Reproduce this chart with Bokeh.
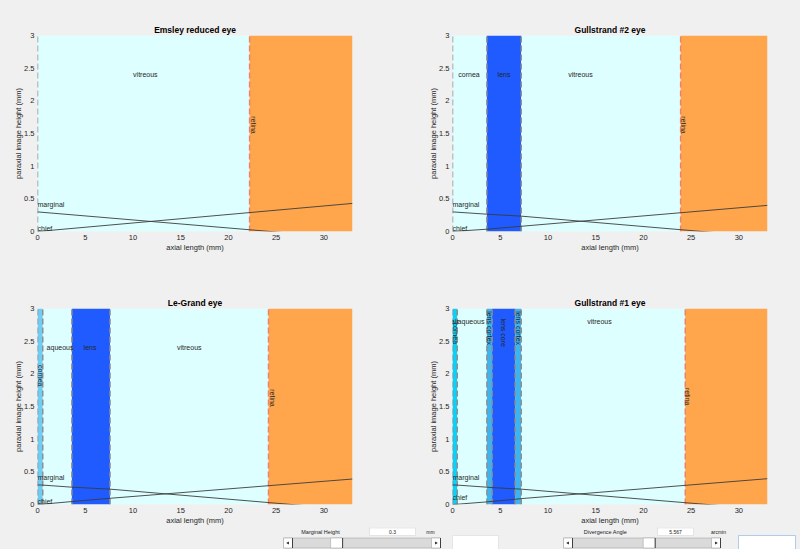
from bokeh.plotting import figure
from bokeh.models import Range1d, FixedTicker, CustomJSTickFormatter, ColumnDataSource
from bokeh.layouts import column, row
from bokeh.core.properties import value
from bokeh.embed import file_html
from bokeh.resources import INLINE

# ---------------- data ----------------
x_limits = [0.0, 33.0]
y_limits = [0.0, 3.0]
x_ticks = [0, 5, 10, 15, 20, 25, 30]
y_ticks = [0, 0.5, 1, 1.5, 2, 2.5, 3]

# Emsley reduced eye
emsley_edges = [0.0, 22.22, 33.0]
emsley_media = ["vitreous", "retina"]
emsley_surfaces = [0.0, 22.22]
emsley_surface_kind = ["optic", "retina"]
emsley_marginal_x = [0.0, 33.0]
emsley_marginal_y = [0.30, -0.106]
emsley_chief_x = [0.0, 33.0]
emsley_chief_y = [0.0, 0.43]
emsley_hlabels = ["vitreous"]
emsley_hlabel_x = [11.3]
emsley_hlabel_y = [2.4]
emsley_vlabels = ["retina"]
emsley_vlabel_x = [22.58]
emsley_vlabel_y = [1.63]

# Gullstrand #2 eye
g2_edges = [0.0, 3.6, 7.2, 23.9, 33.0]
g2_media = ["aqueous", "lens", "vitreous", "retina"]
g2_surfaces = [0.0, 3.6, 7.2, 23.9]
g2_surface_kind = ["optic", "optic", "optic", "retina"]
g2_marginal_x = [0.0, 3.6, 7.2, 33.0]
g2_marginal_y = [0.30, 0.265, 0.235, -0.085]
g2_chief_x = [0.0, 3.6, 7.2, 33.0]
g2_chief_y = [0.0, 0.035, 0.08, 0.40]
g2_hlabels = ["cornea", "lens", "vitreous"]
g2_hlabel_x = [1.73, 5.4, 13.4]
g2_hlabel_y = [2.4, 2.4, 2.4]
g2_vlabels = ["retina"]
g2_vlabel_x = [24.25]
g2_vlabel_y = [1.63]

# Le-Grand eye
lg_edges = [0.0, 0.55, 3.6, 7.6, 24.2, 33.0]
lg_media = ["cornea", "aqueous", "lens", "vitreous", "retina"]
lg_surfaces = [0.0, 0.55, 3.6, 7.6, 24.2]
lg_surface_kind = ["optic", "optic", "optic", "optic", "retina"]
lg_marginal_x = [0.0, 0.55, 3.6, 7.6, 33.0]
lg_marginal_y = [0.30, 0.297, 0.265, 0.235, -0.079]
lg_chief_x = [0.0, 0.55, 3.6, 7.6, 33.0]
lg_chief_y = [0.0, 0.005, 0.045, 0.095, 0.39]
lg_hlabels = ["aqueous", "lens", "vitreous"]
lg_hlabel_x = [2.36, 5.5, 15.9]
lg_hlabel_y = [2.4, 2.4, 2.4]
lg_vlabels = ["cornea", "retina"]
lg_vlabel_x = [0.3, 24.6]
lg_vlabel_y = [1.97, 1.63]

# Gullstrand #1 eye
g1_edges = [0.0, 0.5, 3.6, 4.146, 6.565, 7.2, 24.385, 33.0]
g1_media = ["cornea", "aqueous", "lens cortex", "lens core", "lens cortex", "vitreous", "retina"]
g1_surfaces = [0.0, 0.5, 3.6, 4.146, 6.565, 7.2, 24.385]
g1_surface_kind = ["optic", "optic", "optic", "optic", "optic", "optic", "retina"]
g1_marginal_x = [0.0, 0.5, 3.6, 4.146, 6.565, 7.2, 33.0]
g1_marginal_y = [0.30, 0.297, 0.265, 0.259, 0.240, 0.235, -0.076]
g1_chief_x = [0.0, 0.5, 3.6, 4.146, 6.565, 7.2, 33.0]
g1_chief_y = [0.0, 0.004, 0.04, 0.048, 0.08, 0.09, 0.395]
g1_hlabels = ["air", "aqueous", "vitreous"]
g1_hlabel_x = [0.25, 1.94, 15.4]
g1_hlabel_y = [2.8, 2.8, 2.8]
g1_vlabels = ["cornea", "lens cortex", "lens core", "lens cortex", "retina"]
g1_vlabel_x = [0.3, 3.87, 5.3, 6.9, 24.67]
g1_vlabel_y = [2.62, 2.7, 2.63, 2.7, 1.65]

ray_label_names = ["marginal", "chief"]
ray_label_y_top = [0.42, 0.04]
ray_label_y_g1 = [0.42, 0.11]

marginal_height = 0.3          # mm
marginal_range = [0.0, 1.0]
divergence_angle = 5.567       # arcmin
divergence_range = [0.0, 10.0]

# ---------------- style ----------------
FONT = "Liberation Sans"
TXT = "#262626"
BG = "#F0F0F0"
colors_default = {"vitreous": "#DEFFFF", "aqueous": "#DEFFFF", "retina": "#FFA64D",
                  "lens": "#1F5BFF", "lens core": "#1F5BFF", "cornea": "#6ECDF3",
                  "lens cortex": "#3CB4F0"}
colors_g1 = dict(colors_default, cornea="#08D2FA")
surface_colors = {"optic": "#8F8F8F", "retina": "#EE806C"}
BGSTYLE = {"background-color": BG}


def eye_plot(title, edges, media, colors, surfaces, kinds, mx, my, cx, cy,
             hl, hx, hy, vl, vx, vy, ray_lab_y, width, height, bl, br, bt, bb):
    p = figure(width=width, height=height, x_range=Range1d(*x_limits), y_range=Range1d(*y_limits),
               toolbar_location=None, output_backend="svg", min_border_left=bl,
               min_border_right=br, min_border_top=bt, min_border_bottom=bb,
               border_fill_color=BG, background_fill_color=BG, outline_line_color=None,
               title=title, styles=BGSTYLE)
    p.title.text_font = FONT
    p.title.text_font_size = "8.5px"
    p.title.text_font_style = "bold"
    p.title.align = "center"
    p.title.text_color = "#000000"
    p.title.offset = 0
    p.title.standoff = 1
    p.grid.visible = False

    src = ColumnDataSource(dict(left=edges[:-1], right=edges[1:],
                                color=[colors[m] for m in media]))
    p.quad(left="left", right="right", bottom=y_limits[0], top=y_limits[1],
           fill_color="color", line_color=None, source=src)

    ssrc = ColumnDataSource(dict(x=surfaces, color=[surface_colors[k] for k in kinds]))
    p.segment(x0="x", y0=y_limits[0], x1="x", y1=y_limits[1], line_color="color",
              line_width=1.5, line_dash="6 3", source=ssrc)

    p.line(mx, my, line_color="#3C3C3C", line_width=0.9)
    p.line(cx, cy, line_color="#3C3C3C", line_width=0.9)

    p.text(x=hx, y=hy, text=hl, text_font=value(FONT), text_font_size="7px",
           text_color=TXT, text_align="center", text_baseline="middle")
    p.text(x=vx, y=vy, text=vl, text_font=value(FONT), text_font_size="7px",
           text_color=TXT, text_align="center", text_baseline="middle", angle=-1.5708)
    p.text(x=[x_limits[0]] * 2, y=ray_lab_y, text=ray_label_names, text_font=value(FONT),
           text_font_size="7px", text_color=TXT, text_align="left", text_baseline="middle")

    for ax in p.axis:
        ax.axis_line_color = None
        ax.major_tick_line_color = None
        ax.minor_tick_line_color = None
        ax.major_tick_in = 0
        ax.major_tick_out = 0
        ax.minor_tick_in = 0
        ax.minor_tick_out = 0
        ax.major_label_text_font = FONT
        ax.major_label_text_font_size = "7.5px"
        ax.major_label_text_color = TXT
        ax.axis_label_text_font = FONT
        ax.axis_label_text_font_size = "7.5px"
        ax.axis_label_text_font_style = "normal"
        ax.axis_label_text_color = TXT
        ax.major_label_standoff = 3
        ax.axis_label_standoff = 0
        ax.formatter = CustomJSTickFormatter(code="return String(tick);")
    p.yaxis.axis_label_standoff = -2
    p.xaxis.ticker = FixedTicker(ticks=x_ticks)
    p.yaxis.ticker = FixedTicker(ticks=y_ticks)
    p.xaxis.axis_label = "axial length (mm)"
    p.yaxis.axis_label = "paraxial image height (mm)"
    return p


TOP_H, BOT_H, CTRL_H = 280, 247, 22
p1 = eye_plot("Emsley reduced eye", emsley_edges, emsley_media, colors_default, emsley_surfaces,
              emsley_surface_kind, emsley_marginal_x, emsley_marginal_y, emsley_chief_x,
              emsley_chief_y, emsley_hlabels, emsley_hlabel_x, emsley_hlabel_y, emsley_vlabels,
              emsley_vlabel_x, emsley_vlabel_y, ray_label_y_top, 400, TOP_H, 37, 48, 35, 49)
p2 = eye_plot("Gullstrand #2 eye", g2_edges, g2_media, colors_default, g2_surfaces,
              g2_surface_kind, g2_marginal_x, g2_marginal_y, g2_chief_x, g2_chief_y,
              g2_hlabels, g2_hlabel_x, g2_hlabel_y, g2_vlabels, g2_vlabel_x, g2_vlabel_y,
              ray_label_y_top, 400, TOP_H, 52, 33, 35, 49)
p3 = eye_plot("Le-Grand eye", lg_edges, lg_media, colors_default, lg_surfaces,
              lg_surface_kind, lg_marginal_x, lg_marginal_y, lg_chief_x, lg_chief_y,
              lg_hlabels, lg_hlabel_x, lg_hlabel_y, lg_vlabels, lg_vlabel_x, lg_vlabel_y,
              ray_label_y_top, 400, BOT_H, 37, 48, 28, 23)
p4 = eye_plot("Gullstrand #1 eye", g1_edges, g1_media, colors_g1, g1_surfaces,
              g1_surface_kind, g1_marginal_x, g1_marginal_y, g1_chief_x, g1_chief_y,
              g1_hlabels, g1_hlabel_x, g1_hlabel_y, g1_vlabels, g1_vlabel_x, g1_vlabel_y,
              ray_label_y_g1, 400, BOT_H, 52, 33, 28, 23)

# ---------------- control strip (UI look-alike) ----------------
c = figure(width=800, height=CTRL_H, x_range=Range1d(0, 800), y_range=Range1d(549, 527),
           toolbar_location=None, output_backend="svg", min_border=0,
           border_fill_color=BG, background_fill_color=BG, outline_line_color=None,
           styles=BGSTYLE)
c.axis.visible = False
c.grid.visible = False


def control(label, label_x, val_text, unit, unit_x, box_l, box_r, val, vrange,
            sl_l, sl_r, out_l, out_r, out_line):
    c.text(x=[label_x], y=[531], text=[label], text_font=value(FONT), text_font_size="5.5px",
           text_color="#202020", text_align="center", text_baseline="middle")
    c.quad(left=[box_l], right=[box_r], top=[527.5], bottom=[535], fill_color="white",
           line_color="#D0D0D0", line_width=0.5)
    c.text(x=[(box_l + box_r) / 2], y=[531.3], text=[val_text], text_font=value(FONT),
           text_font_size="5px", text_color="#202020", text_align="center",
           text_baseline="middle")
    c.text(x=[unit_x], y=[531], text=[unit], text_font=value(FONT), text_font_size="5px",
           text_color="#202020", text_align="center", text_baseline="middle")
    # slider
    c.quad(left=[sl_l], right=[sl_r], top=[537.5], bottom=[547.5], fill_color="#DADADA",
           line_color="#A8A8A8", line_width=0.6)
    c.quad(left=[sl_l, sl_r - 9], right=[sl_l + 9, sl_r], top=[537.5, 537.5],
           bottom=[547.5, 547.5], fill_color="white", line_color="#A8A8A8", line_width=0.6)
    c.segment(x0=[sl_l + 9, sl_r], y0=[537.5, 537.5], x1=[sl_l + 9, sl_r], y1=[547.5, 547.5],
              line_color="#404040", line_width=1)
    c.scatter(x=[sl_l + 4.5, sl_r - 4.5], y=[542.5, 542.5], marker="triangle",
              angle=[1.5708, -1.5708], size=3, fill_color="#202020", line_color=None)
    frac = (val - vrange[0]) / (vrange[1] - vrange[0])
    tx = sl_l + 9 + frac * (sl_r - sl_l - 18 - 12)
    c.quad(left=[tx], right=[tx + 12], top=[537.5], bottom=[547.5], fill_color="white",
           line_color="#A8A8A8", line_width=0.6)
    c.segment(x0=[tx + 12], y0=[537.5], x1=[tx + 12], y1=[547.5], line_color="#404040",
              line_width=1)
    c.quad(left=[out_l], right=[out_r], top=[535], bottom=[549], fill_color="white",
           line_color=out_line, line_width=0.8)


control("Marginal Height", 320, str(marginal_height), "mm", 430, 369, 415, marginal_height,
        marginal_range, 283, 440, 452, 498, "#E0E0E0")
control("Divergence Angle", 605, str(divergence_angle), "arcmin", 718, 657, 693,
        divergence_angle, divergence_range, 563, 720, 738, 795, "#9CC0EA")

layout = column(row(p1, p2, styles=BGSTYLE), row(p3, p4, styles=BGSTYLE), c, styles=BGSTYLE)
open("out.html", "w").write(file_html(layout, INLINE))
